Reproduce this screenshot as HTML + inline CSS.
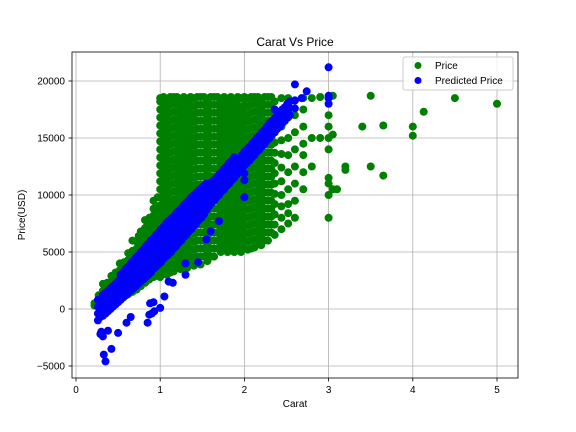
<!DOCTYPE html>
<html><head><meta charset="utf-8">
<style>
body{margin:0;background:#fff;}
svg{display:block;font-family:"Liberation Sans","DejaVu Sans",sans-serif;}
</style></head>
<body>
<svg id="chart" width="576" height="432" viewBox="0 0 576 432">
<rect x="0" y="0" width="576" height="432" fill="#fff"/>
<g id="grid"></g>
<g id="greenPts"></g>
<g id="bluePts"></g>
<rect x="72" y="52" width="446" height="326" fill="none" stroke="#000" stroke-width="0.8"/>
<g id="ticks"></g>
<text x="295" y="46" text-anchor="middle" font-size="12">Carat Vs Price</text>
<text x="295" y="407" text-anchor="middle" font-size="10">Carat</text>
<text x="25" y="215" text-anchor="middle" font-size="10" transform="rotate(-90 25 215)">Price(USD)</text>
<g>
<rect x="403" y="57" width="110" height="33" rx="2" fill="#fff" fill-opacity="0.8" stroke="#ccc"/>
<circle cx="418" cy="65.5" r="3.5" fill="#008000"/>
<text x="435" y="69" font-size="10">Price</text>
<circle cx="418" cy="80.5" r="3.5" fill="#0000ff"/>
<text x="435" y="84" font-size="10">Predicted Price</text>
</g>
</svg>
<script>
const xTicks = [0,1,2,3,4,5];
const yTicks = [-5000,0,5000,10000,15000,20000];
// green "Price": each column "carat|prices in thousands"
const greenColumns = [
"0.22|0.3 0.5","0.27|0.3 0.8 1.2","0.32|0.4 1.0 1.6 2.2","0.37|0.5 1.1 1.7 2.3",
"0.42|0.6 1.2 1.8 2.4 2.9","0.47|0.8 1.4 2.0 2.6 3.2","0.52|1.0 1.6 2.2 2.8 3.4 4.0",
"0.57|1.1 1.7 2.3 2.9 3.5 4.1","0.62|1.3 1.9 2.5 3.1 3.7 4.3 4.9",
"0.67|1.5 2.1 2.7 3.3 3.9 4.5 5.1 6.0","0.72|1.7 2.3 2.9 3.5 4.1 4.7 5.3 5.9",
"0.77|2.0 2.6 3.2 3.8 4.4 5.0 5.6 6.2 6.8","0.82|2.3 2.9 3.5 4.1 4.7 5.3 5.9 6.5 7.1 7.8",
"0.87|2.6 3.2 3.8 4.4 5.0 5.6 6.2 6.8 7.4 8.0","0.92|2.8 3.4 4.0 4.6 5.2 5.8 6.4 7.0 7.6 8.2 8.8 9.5",
"0.97|3.0 3.6 4.2 4.8 5.4 6.0 6.6 7.2 7.8 8.4 9.0 9.8",
"0.345|0.7 1.3 1.9","0.445|0.9 1.5 2.1 2.7","0.545|1.3 1.9 2.5 3.1 3.7","0.645|1.6 2.2 2.8 3.4 4.0 4.6",
"0.745|2.0 2.6 3.2 3.8 4.4 5.0 5.6 6.4","0.845|2.5 3.1 3.7 4.3 4.9 5.5 6.1 6.7 7.3",
"0.945|2.9 3.5 4.1 4.7 5.3 5.9 6.5 7.1 7.7 8.3 8.9",
"1.00|2.8 3.5 4.2 4.9 5.6 6.3 7.0 7.7 8.4 9.1 9.8 10.5 11.2 11.9 12.6 13.3 14.0 14.7 15.4 16.1 16.8 17.5 18.2 18.5",
"1.08|3.0 3.7 4.4 5.1 5.8 6.5 7.2 7.9 8.6 9.3 10.0 10.7 11.4 12.1 12.8 13.5 14.2 14.9 15.6 16.3 17.0 17.7 18.4",
"1.16|3.3 4.0 4.7 5.4 6.1 6.8 7.5 8.2 8.9 9.6 10.3 11.0 11.7 12.4 13.1 13.8 14.5 15.2 15.9 16.6 17.3 18.0 18.6",
"1.24|3.5 4.2 4.9 5.6 6.3 7.0 7.7 8.4 9.1 9.8 10.5 11.2 11.9 12.6 13.3 14.0 14.7 15.4 16.1 16.8 17.5 18.2",
"1.32|3.6 4.3 5.0 5.7 6.4 7.1 7.8 8.5 9.2 9.9 10.6 11.3 12.0 12.7 13.4 14.1 14.8 15.5 16.2 16.9 17.6 18.3",
"1.40|3.8 4.5 5.2 5.9 6.6 7.3 8.0 8.7 9.4 10.1 10.8 11.5 12.2 12.9 13.6 14.3 15.0 15.7 16.4 17.1 17.8 18.5",
"1.48|3.9 4.6 5.3 6.0 6.7 7.4 8.1 8.8 9.5 10.2 10.9 11.6 12.3 13.0 13.7 14.4 15.1 15.8 16.5 17.2 17.9 18.6",
"1.56|4.2 4.9 5.6 6.3 7.0 7.7 8.4 9.1 9.8 10.5 11.2 11.9 12.6 13.3 14.0 14.7 15.4 16.1 16.8 17.5 18.2",
"1.64|4.6 5.3 6.0 6.7 7.4 8.1 8.8 9.5 10.2 10.9 11.6 12.3 13.0 13.7 14.4 15.1 15.8 16.5 17.2 17.9 18.6",
"1.72|5.0 5.7 6.4 7.1 7.8 8.5 9.2 9.9 10.6 11.3 12.0 12.7 13.4 14.1 14.8 15.5 16.2 16.9 17.6 18.3",
"1.80|5.0 5.7 6.4 7.1 7.8 8.5 9.2 9.9 10.6 11.3 12.0 12.7 13.4 14.1 14.8 15.5 16.2 16.9 17.6 18.3",
"1.88|5.0 5.7 6.4 7.1 7.8 8.5 9.2 9.9 10.6 11.3 12.0 12.7 13.4 14.1 14.8 15.5 16.2 16.9 17.6 18.4",
"1.96|5.0 5.7 6.4 7.1 7.8 8.5 9.2 9.9 10.6 11.3 12.0 12.7 13.4 14.1 14.8 15.5 16.2 16.9 17.6 18.5",
"2.04|5.2 5.9 6.6 7.3 8.0 8.7 9.4 10.1 10.8 11.5 12.2 12.9 13.6 14.3 15.0 15.7 16.4 17.1 17.8 18.5",
"2.12|5.4 6.1 6.8 7.5 8.2 8.9 9.6 10.3 11.0 11.7 12.4 13.1 13.8 14.5 15.2 15.9 16.6 17.3 18.0 18.6",
"2.20|5.6 6.3 7.0 7.7 8.4 9.1 9.8 10.5 11.2 11.9 12.6 13.3 14.0 14.7 15.4 16.1 16.8 17.5 18.2",
"2.28|6.0 6.7 7.4 8.1 8.8 9.5 10.2 10.9 11.6 12.3 13.0 13.7 14.4 15.1 15.8 16.5 17.2 17.9 18.6",
"1.04|3.2 3.9 4.6 5.3 6.0 6.7 7.4 8.1 8.8 9.5 10.2 10.9 11.6 12.3 13.0 13.7 14.4 15.1 15.8 16.5 17.2 17.9 18.6",
"1.12|3.2 3.9 4.6 5.3 6.0 6.7 7.4 8.1 8.8 9.5 10.2 10.9 11.6 12.3 13.0 13.7 14.4 15.1 15.8 16.5 17.2 17.9 18.6",
"1.20|3.9 4.6 5.3 6.0 6.7 7.4 8.1 8.8 9.5 10.2 10.9 11.6 12.3 13.0 13.7 14.4 15.1 15.8 16.5 17.2 17.9 18.6",
"1.28|3.9 4.6 5.3 6.0 6.7 7.4 8.1 8.8 9.5 10.2 10.9 11.6 12.3 13.0 13.7 14.4 15.1 15.8 16.5 17.2 17.9 18.6",
"1.36|3.9 4.6 5.3 6.0 6.7 7.4 8.1 8.8 9.5 10.2 10.9 11.6 12.3 13.0 13.7 14.4 15.1 15.8 16.5 17.2 17.9 18.6",
"1.44|4.6 5.3 6.0 6.7 7.4 8.1 8.8 9.5 10.2 10.9 11.6 12.3 13.0 13.7 14.4 15.1 15.8 16.5 17.2 17.9 18.6",
"1.52|4.6 5.3 6.0 6.7 7.4 8.1 8.8 9.5 10.2 10.9 11.6 12.3 13.0 13.7 14.4 15.1 15.8 16.5 17.2 17.9 18.6",
"1.60|4.6 5.3 6.0 6.7 7.4 8.1 8.8 9.5 10.2 10.9 11.6 12.3 13.0 13.7 14.4 15.1 15.8 16.5 17.2 17.9 18.6",
"1.68|5.3 6.0 6.7 7.4 8.1 8.8 9.5 10.2 10.9 11.6 12.3 13.0 13.7 14.4 15.1 15.8 16.5 17.2 17.9 18.6",
"1.76|5.3 6.0 6.7 7.4 8.1 8.8 9.5 10.2 10.9 11.6 12.3 13.0 13.7 14.4 15.1 15.8 16.5 17.2 17.9 18.6",
"1.84|5.3 6.0 6.7 7.4 8.1 8.8 9.5 10.2 10.9 11.6 12.3 13.0 13.7 14.4 15.1 15.8 16.5 17.2 17.9 18.6",
"1.92|5.3 6.0 6.7 7.4 8.1 8.8 9.5 10.2 10.9 11.6 12.3 13.0 13.7 14.4 15.1 15.8 16.5 17.2 17.9 18.6",
"2.00|5.3 6.0 6.7 7.4 8.1 8.8 9.5 10.2 10.9 11.6 12.3 13.0 13.7 14.4 15.1 15.8 16.5 17.2 17.9 18.6",
"2.08|5.3 6.0 6.7 7.4 8.1 8.8 9.5 10.2 10.9 11.6 12.3 13.0 13.7 14.4 15.1 15.8 16.5 17.2 17.9 18.6",
"2.16|6.0 6.7 7.4 8.1 8.8 9.5 10.2 10.9 11.6 12.3 13.0 13.7 14.4 15.1 15.8 16.5 17.2 17.9 18.6",
"2.24|6.0 6.7 7.4 8.1 8.8 9.5 10.2 10.9 11.6 12.3 13.0 13.7 14.4 15.1 15.8 16.5 17.2 17.9 18.6",
"2.32|6.7 7.4 8.1 8.8 9.5 10.2 10.9 11.6 12.3 13.0 13.7 14.4 15.1 15.8 16.5 17.2 17.9 18.6",
"2.36|6.5 7.4 8.3 9.2 10.1 11.0 11.9 12.8 13.7 14.6 15.5 16.4 17.3 18.2",
"2.44|7.0 8.0 9.0 10.0 11.2 12.4 13.6 14.8 16.0 17.2 18.5",
"2.52|7.5 8.4 9.2 10.5 12.0 13.5 15.0 16.8 17.5 18.5",
"2.60|8.0 9.5 11.0 12.5 14.0 15.5 17.0 18.3","2.70|10.5 12.0 13.5 14.5 16.0 17.5 18.5",
"2.80|12.5 15.0 18.5","2.90|15.0 18.6",
"3.00|8.0 10.0 11.0 11.5 14.0 15.0 16.0 17.0 18.5","3.05|10.5 15.3 18.7","3.10|10.5",
"3.20|12.2 12.5","3.40|16.0","3.50|12.5 18.7","3.65|11.7 16.1","4.00|15.2 16.0",
"4.13|17.3","4.50|18.5","5.00|18.0"
];
// blue "Predicted Price"
const blueColumns = [
"0.26|-1.0 -0.4 0.2 0.8","0.32|-0.6 0.0 0.6 1.2","0.38|-0.2 0.4 1.0 1.6","0.44|0.2 0.8 1.4 2.0",
"0.50|0.6 1.2 1.8 2.4","0.56|1.0 1.6 2.2 2.8 3.2","0.62|1.4 2.0 2.6 3.2 3.7","0.68|1.8 2.4 3.0 3.6 4.2",
"0.74|2.2 2.9 3.5 4.1 4.7","0.80|2.6 3.3 4.0 4.6 5.2","0.86|3.0 3.7 4.4 5.0 5.7","0.92|3.5 4.2 4.9 5.5 6.2",
"0.98|3.9 4.6 5.3 6.0 6.7","1.04|4.4 5.1 5.8 6.5 7.2","1.10|4.8 5.5 6.3 7.0 7.7","1.16|5.3 6.0 6.7 7.4 8.1",
"1.22|5.8 6.5 7.2 7.9 8.6","1.28|6.3 7.0 7.7 8.4 9.1","1.34|6.8 7.5 8.1 8.8 9.5","1.40|7.3 8.0 8.6 9.3 10.0",
"1.46|7.8 8.5 9.0 9.7 10.4","1.52|8.3 9.0 9.5 10.2 10.8","1.58|9.0 9.6 10.2 10.8","1.64|9.5 10.1 10.7 11.3",
"1.70|10.0 10.6 11.2 11.8","1.76|10.5 11.1 11.7 12.3","1.82|11.0 11.6 12.2 12.8","1.88|11.5 12.1 12.7 13.3",
"1.94|12.0 12.6 13.2","2.00|9.8 11.3 11.9 12.6 13.2 13.8","2.06|13.0 13.6 14.2","2.12|13.5 14.1 14.7",
"2.18|14.0 14.6 15.2","2.24|14.5 15.1 15.7","2.30|15.0 15.6 16.2 16.3","2.36|15.5 16.1 16.7 17.5",
"2.42|16.0 16.6 17.2","2.48|16.5 17.1 17.7","2.54|17.0 17.6 18.2","2.60|17.6 18.3 19.7","2.68|18.5",
"2.74|19.1","3.00|18.0 18.5 18.7 21.2",
"0.29|-0.7 0.0 0.7","0.35|-0.4 0.2 0.8 1.4","0.41|0.0 0.6 1.2 1.8","0.47|0.4 1.0 1.6 2.2",
"0.53|0.8 1.4 2.0 2.6 3.0","0.59|1.2 1.8 2.4 3.0 3.5","0.65|1.6 2.2 2.8 3.4 4.0","0.71|2.0 2.6 3.2 3.9 4.5",
"0.77|2.4 3.1 3.8 4.4 5.0","0.83|2.8 3.5 4.2 4.8 5.5","0.89|3.2 3.9 4.6 5.3 6.0","0.95|3.7 4.4 5.1 5.8 6.5",
"1.01|4.1 4.8 5.6 6.3 7.0","1.07|4.6 5.3 6.0 6.8 7.5","1.13|5.0 5.8 6.5 7.2 7.9","1.19|5.5 6.2 7.0 7.7 8.4",
"1.25|6.0 6.7 7.4 8.1 8.8","1.31|6.5 7.2 7.9 8.6 9.3","1.37|7.0 7.7 8.4 9.1 9.8","1.43|7.5 8.2 8.8 9.5 10.2",
"1.49|8.0 8.7 9.3 10.0 10.6","1.55|8.7 9.3 9.9 10.5 11.0","1.61|9.3 9.9 10.5 11.1","1.67|9.8 10.4 11.0 11.5",
"1.73|10.3 10.9 11.5 12.0","1.79|10.8 11.4 12.0 12.5","1.85|11.3 11.9 12.5 13.0","1.91|11.8 12.4 13.0",
"1.97|12.3 12.9 13.5","2.03|12.8 13.4 14.0","2.09|13.3 13.9 14.5","2.15|13.8 14.4 15.0",
"2.21|14.3 14.9 15.5","2.27|14.8 15.4 16.0","2.33|15.3 15.9 16.5","2.39|15.8 16.4 17.0",
"2.45|16.3 16.9 17.5","2.51|16.8 17.4 18.0",
"0.29|-2.2","0.30|-2.0","0.32|-2.4","0.33|-4.0","0.35|-4.6","0.42|-3.5","0.38|-1.9","0.50|-2.1",
"0.60|-1.2","0.65|-0.7","0.85|-1.2","0.87|-0.5","0.90|-0.4","0.93|-0.2","0.88|0.5","0.92|0.6",
"1.00|0.1","1.05|1.1","1.10|2.4","1.15|2.3","1.30|3.0 4.0","1.45|4.1","1.55|6.1","1.60|6.8","1.70|7.7"
];
const X0=76, XS=84.2, Y0=309, YS=0.0114;
function xScale(c){return X0+c*XS;}
function yScale(p){return Y0-p*YS;}
const NS="http://www.w3.org/2000/svg";
const grid=document.getElementById('grid'), ticks=document.getElementById('ticks');
xTicks.forEach(t=>{
  const x=xScale(t);
  const l=document.createElementNS(NS,'line');
  l.setAttribute('x1',x);l.setAttribute('x2',x);l.setAttribute('y1',52);l.setAttribute('y2',378);
  l.setAttribute('stroke','#b0b0b0');l.setAttribute('stroke-width','0.8');
  
  
  grid.appendChild(l);
  const tk=document.createElementNS(NS,'line');
  tk.setAttribute('x1',x);tk.setAttribute('x2',x);tk.setAttribute('y1',378);tk.setAttribute('y2',381.5);
  tk.setAttribute('stroke','#000');tk.setAttribute('stroke-width','0.8');
  
  
  ticks.appendChild(tk);
  const tx=document.createElementNS(NS,'text');
  tx.setAttribute('x',x);tx.setAttribute('y',393);tx.setAttribute('text-anchor','middle');tx.setAttribute('font-size','10');
  tx.textContent=t;
  
  
  ticks.appendChild(tx);
});
yTicks.forEach(t=>{
  const y=yScale(t);
  const l=document.createElementNS(NS,'line');
  l.setAttribute('x1',72);l.setAttribute('x2',518);l.setAttribute('y1',y);l.setAttribute('y2',y);
  l.setAttribute('stroke','#b0b0b0');l.setAttribute('stroke-width','0.8');
  
  
  grid.appendChild(l);
  const tk=document.createElementNS(NS,'line');
  tk.setAttribute('x1',68.5);tk.setAttribute('x2',72);tk.setAttribute('y1',y);tk.setAttribute('y2',y);
  tk.setAttribute('stroke','#000');tk.setAttribute('stroke-width','0.8');
  
  
  ticks.appendChild(tk);
  const tx=document.createElementNS(NS,'text');
  tx.setAttribute('x',65);tx.setAttribute('y',y+3.5);tx.setAttribute('text-anchor','end');tx.setAttribute('font-size','10');
  tx.textContent=(t<0?'\u2212'+(-t):t);
  
  
  ticks.appendChild(tx);
});
function drawColumns(cols,g,color,name){
  cols.forEach(s=>{
    const parts=s.split('|'); const c=parseFloat(parts[0]);
    parts[1].trim().split(/\s+/).forEach(v=>{
      const p=parseFloat(v)*1000;
      const el=document.createElementNS(NS,'circle');
      el.setAttribute('cx',xScale(c).toFixed(1));el.setAttribute('cy',yScale(p).toFixed(1));
      el.setAttribute('r','4');el.setAttribute('fill',color);
      
      
      g.appendChild(el);
    });
  });
}
drawColumns(greenColumns,document.getElementById('greenPts'),'#008000','price-point');
drawColumns(blueColumns,document.getElementById('bluePts'),'#0000ff','predicted-price-point');
</script>
</body></html>
